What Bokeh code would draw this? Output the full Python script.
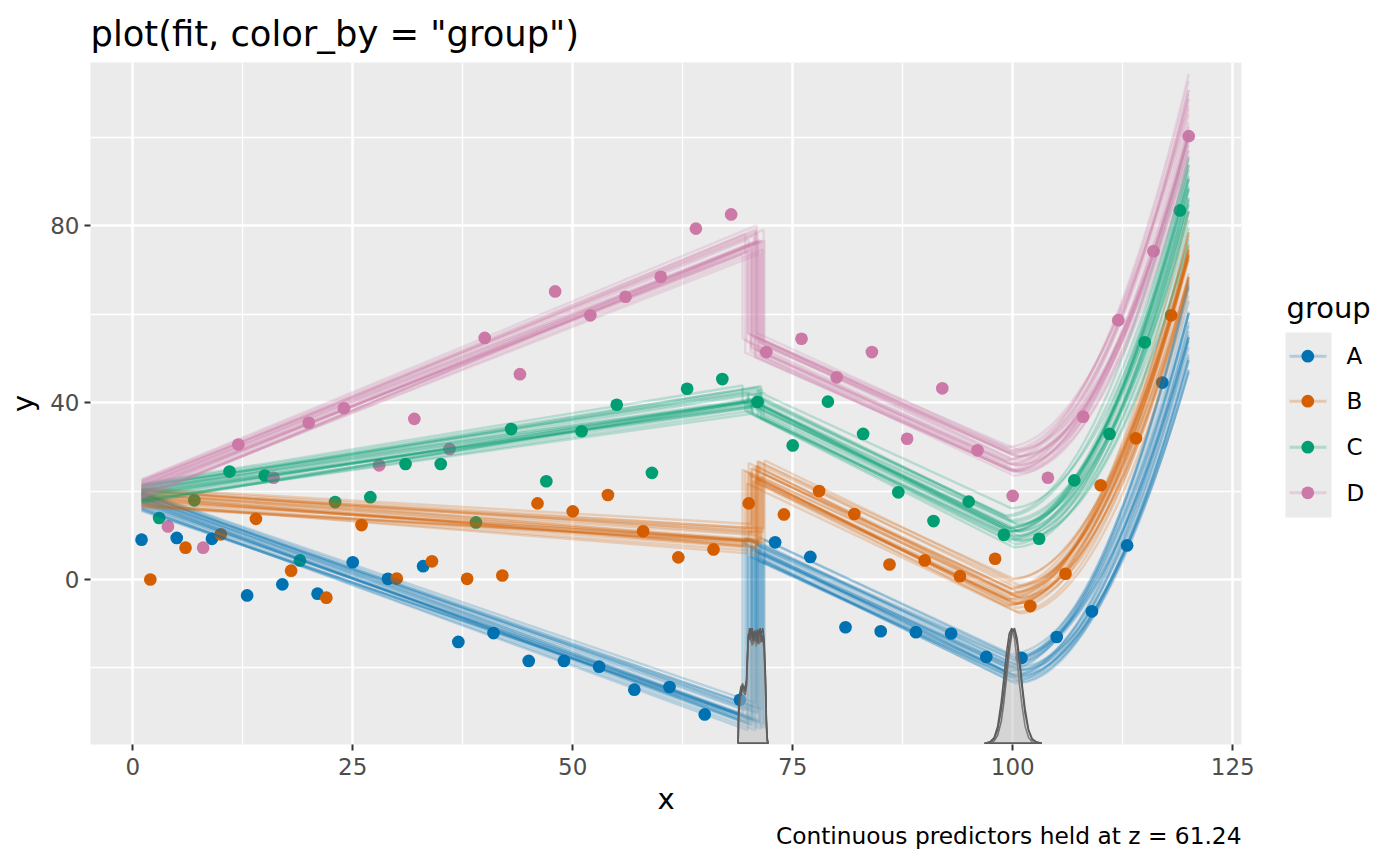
import numpy as np
from bokeh.plotting import figure
from bokeh.models import Range1d, FixedTicker, Title
from bokeh.layouts import row
from bokeh.embed import file_html
from bokeh.resources import INLINE
from bokeh.core.properties import value

FONT = "DejaVu Sans"

# ---------------- data ----------------
groups = ["A", "B", "C", "D"]
colors = ["#0072B2", "#D55E00", "#009E73", "#CC79A7"]

x_A = [1, 5, 9, 13, 17, 21, 25, 29, 33, 37, 41, 45, 49, 53, 57, 61, 65, 69, 73, 77,
       81, 85, 89, 93, 97, 101, 105, 109, 113, 117]
y_A = [9.0, 9.4, 9.2, -3.6, -1.1, -3.2, 3.9, 0.15, 3.0, -14.1, -12.1, -18.4, -18.4, -19.7,
       -24.9, -24.3, -30.5, -27.2, 8.4, 5.1, -10.8, -11.7, -11.9, -12.2, -17.5, -17.7,
       -13.0, -7.2, 7.7, 44.5]
x_B = [2, 6, 10, 14, 18, 22, 26, 30, 34, 38, 42, 46, 50, 54, 58, 62, 66, 70, 74, 78,
       82, 86, 90, 94, 98, 102, 106, 110, 114, 118]
y_B = [0.0, 7.2, 10.2, 13.7, 2.0, -4.1, 12.3, 0.2, 4.1, 0.15, 0.9, 17.2, 15.4, 19.1,
       10.9, 5.0, 6.8, 17.2, 14.7, 20.0, 14.8, 3.4, 4.3, 0.75, 4.7, -6.0, 1.3, 21.3,
       31.9, 59.7]
x_C = [3, 7, 11, 15, 19, 23, 27, 31, 35, 39, 43, 47, 51, 55, 59, 63, 67, 71, 75, 79,
       83, 87, 91, 95, 99, 103, 107, 111, 115, 119]
y_C = [13.9, 17.9, 24.4, 23.5, 4.3, 17.5, 18.6, 26.1, 26.1, 12.9, 34.0, 22.2, 33.5, 39.5,
       24.1, 43.1, 45.3, 40.1, 30.3, 40.2, 32.9, 19.7, 13.2, 17.6, 10.1, 9.2, 22.4, 32.9,
       53.6, 83.4]
x_D = [4, 8, 12, 16, 20, 24, 28, 32, 36, 40, 44, 48, 52, 56, 60, 64, 68, 72, 76, 80,
       84, 88, 92, 96, 100, 104, 108, 112, 116, 120]
y_D = [12.0, 7.2, 30.5, 23.0, 35.4, 38.7, 25.8, 36.3, 29.5, 54.6, 46.4, 65.1, 59.7, 63.9,
       68.4, 79.3, 82.5, 51.4, 54.4, 45.7, 51.4, 31.8, 43.2, 29.2, 18.9, 23.0, 36.8, 58.6,
       74.2, 100.2]
obs_x = [x_A, x_B, x_C, x_D]
obs_y = [y_A, y_B, y_C, y_D]

# posterior fit summary per group (segment 1: start value at x=1 and slope,
# segment 2: level right after change point 1 and slope, segment 3: quadratic)
fit_start = [17.7, 18.5, 19.5, 20.5]
fit_slope1 = [-0.706, -0.138, 0.304, 0.80]
fit_level2 = [6.8, 24.1, 39.3, 53.0]
fit_slope2 = [-0.93, -0.96, -0.965, -0.905]
fit_lin3 = 0.1
fit_quad3 = 0.188
fit_x_first, fit_x_last = 1, 120

# 25 posterior draws: change points and standardized deviations
cp1_draws = [70.3, 71.2, 70.0, 71.6, 70.8, 69.8, 71.0, 70.5, 71.8, 70.2, 71.4, 70.9, 69.9,
             70.6, 71.1, 70.4, 71.7, 69.3, 70.7, 71.3, 69.6, 70.8, 71.5, 70.3, 71.0]
cp2_draws = [100.2, 99.6, 100.5, 99.9, 100.0, 100.8, 99.4, 100.3, 99.8, 100.6, 100.1, 99.7,
             100.4, 99.2, 100.0, 100.9, 99.5, 100.2, 99.9, 100.7, 100.1, 99.3, 100.5, 99.8,
             100.3]
dev_a = [0.42, -0.81, 0.15, -0.33, 0.97, -0.12, 0.63, -1.0, 0.05, 0.74, -0.55, 0.31, -0.68,
         0.88, -0.21, 0.38, -0.92, 0.12, 0.81, -0.43, 0.26, -0.74, 0.51, -0.06, 0.69]
dev_b = [-0.35, 0.58, -0.9, 0.22, 0.71, -0.48, 0.04, 0.93, -0.62, 0.17, -0.27, 0.84, -0.77,
         0.36, 0.09, -0.58, 0.66, -0.15, -0.95, 0.47, 0.28, -0.39, 0.79, -0.7, 0.13]
dev_c = [0.6, 0.11, -0.52, -0.88, 0.33, 0.92, -0.24, -0.41, 0.76, -0.07, 0.49, -0.83, 0.2,
         -0.6, 0.97, 0.03, -0.3, 0.55, -0.15, -0.72, 0.86, 0.37, -0.98, 0.25, -0.45]

# posterior densities of the change points (3 chains, peak-normalised)
cp1_grid = [68.8, 68.85, 69.0, 69.15, 69.3, 69.45, 69.6, 69.75, 69.85, 69.95, 70.1, 70.25,
            70.4, 70.55, 70.7, 70.85, 71.0, 71.15, 71.3, 71.45, 71.6, 71.75, 71.9, 72.0,
            72.1, 72.2]
cp1_dens = [
    [0, 0.30, 0.44, 0.50, 0.47, 0.45, 0.47, 0.55, 0.75, 0.92, 0.97, 0.88, 1.0, 0.86, 0.95,
     0.84, 0.90, 0.98, 0.87, 0.96, 1.0, 0.90, 0.60, 0.25, 0.05, 0],
    [0, 0.20, 0.38, 0.46, 0.52, 0.44, 0.42, 0.50, 0.70, 0.88, 1.0, 0.90, 0.85, 0.97, 0.88,
     0.93, 0.99, 0.86, 0.95, 0.90, 0.94, 0.80, 0.50, 0.15, 0.02, 0],
    [0, 0.25, 0.40, 0.42, 0.48, 0.50, 0.45, 0.52, 0.72, 0.95, 0.90, 1.0, 0.92, 0.89, 0.98,
     0.91, 0.87, 0.94, 1.0, 0.88, 0.92, 0.85, 0.55, 0.20, 0.03, 0],
]
cp2_grid = [96.8, 97.4, 97.9, 98.3, 98.7, 99.0, 99.3, 99.6, 99.9, 100.2, 100.5, 100.8,
            101.1, 101.4, 101.8, 102.2, 102.7, 103.3]
cp2_dens = [
    [0, 0.01, 0.05, 0.15, 0.36, 0.57, 0.79, 0.95, 1.0, 0.91, 0.72, 0.49, 0.30, 0.15, 0.05,
     0.01, 0, 0],
    [0, 0, 0.02, 0.07, 0.19, 0.36, 0.57, 0.79, 0.95, 1.0, 0.91, 0.72, 0.49, 0.30, 0.12,
     0.04, 0.01, 0],
    [0, 0.01, 0.04, 0.12, 0.29, 0.46, 0.67, 0.87, 0.99, 0.97, 0.86, 0.67, 0.46, 0.26, 0.11,
     0.03, 0.01, 0],
]
dens_base = -37.0
dens_height = 26.0

x_ticks = [0, 25, 50, 75, 100, 125]
x_minor = [12.5, 37.5, 62.5, 87.5, 112.5]
y_ticks = [0, 40, 80]
y_minor = [-20, 20, 60, 100]

title_text = 'plot(fit, color_by = "group")'
caption_text = "Continuous predictors held at z = 61.24"

# ---------------- main plot ----------------
FRAME_W, FRAME_H = 1151, 682
B_LEFT, B_RIGHT, B_TOP, B_BOTTOM = 90, 19, 62, 105

p = figure(frame_width=FRAME_W, frame_height=FRAME_H,
           x_range=Range1d(-4.8, 126.0), y_range=Range1d(-37.29, 116.84),
           output_backend="svg", toolbar_location=None,
           min_border_left=B_LEFT, min_border_right=B_RIGHT,
           min_border_top=B_TOP, min_border_bottom=B_BOTTOM,
           background_fill_color="#EBEBEB", border_fill_color="white",
           outline_line_color=None, x_axis_label="x", y_axis_label="y")

p.title.text = title_text
p.title.text_font = FONT
p.title.text_font_size = "35.3px"
p.title.text_font_style = "normal"
p.title.text_color = "black"
p.title.align = "left"
p.title.standoff = 18

p.xaxis.ticker = FixedTicker(ticks=x_ticks, minor_ticks=x_minor)
p.yaxis.ticker = FixedTicker(ticks=y_ticks, minor_ticks=y_minor)
for ax in (p.xaxis, p.yaxis):
    ax.axis_line_color = None
    ax.major_tick_line_color = "#333333"
    ax.major_tick_line_width = 2
    ax.major_tick_out = 6
    ax.major_tick_in = 0
    ax.minor_tick_line_color = None
    ax.major_label_text_font = FONT
    ax.major_label_text_font_size = "23px"
    ax.major_label_text_color = "#4D4D4D"
    ax.axis_label_text_font = FONT
    ax.axis_label_text_font_size = "29px"
    ax.axis_label_text_font_style = "normal"
    ax.axis_label_text_color = "black"
p.xaxis.major_label_standoff = 7
p.yaxis.major_label_standoff = 5
p.xaxis.axis_label_standoff = 4
p.yaxis.axis_label_standoff = 7

p.grid.grid_line_color = "white"
p.grid.grid_line_width = 2.6
p.grid.minor_grid_line_color = "white"
p.grid.minor_grid_line_width = 1.3

# observed points
for k in range(4):
    p.scatter(obs_x[k], obs_y[k], size=12.7, fill_color=colors[k], line_color=None)

# posterior fit lines
n_draws = len(cp1_draws)
for k in range(4):
    xs_all, ys_all = [], []
    for i in range(n_draws):
        j = (i + 6 * k) % n_draws
        c1 = cp1_draws[i]
        c2 = cp2_draws[i]
        y1 = fit_start[k] + 2.2 * dev_a[j]
        s1 = fit_slope1[k] + 0.03 * dev_b[j]
        l2 = fit_level2[k] + 2.9 * dev_c[j]
        s2 = fit_slope2[k] + 0.05 * dev_a[(j + 9) % n_draws]
        q3 = fit_quad3 + 0.013 * dev_b[(j + 13) % n_draws]
        b3 = fit_lin3 + 0.12 * dev_c[(j + 4) % n_draws]
        x_seg1 = np.array([fit_x_first, c1])
        y_seg1 = y1 + s1 * (x_seg1 - fit_x_first)
        x_seg2 = np.array([c1, c2])
        y_seg2 = l2 + s2 * (x_seg2 - c1)
        x_seg3 = np.linspace(c2, fit_x_last, 45)
        d = x_seg3 - c2
        y_seg3 = y_seg2[-1] + b3 * d + q3 * d ** 2
        xs_all.append(np.concatenate([x_seg1, x_seg2, x_seg3]).tolist())
        ys_all.append(np.concatenate([y_seg1, y_seg2, y_seg3]).tolist())
    p.multi_line(xs_all, ys_all, line_color=colors[k], line_alpha=0.22, line_width=2.4)

# change point densities
for grid, chains in ((cp1_grid, cp1_dens), (cp2_grid, cp2_dens)):
    for dens in chains:
        yy = [dens_base + dens_height * v for v in dens]
        p.patch(grid, yy, fill_color="#BEBEBE", fill_alpha=0.2,
                line_color="#5E5E5E", line_width=1.6)

caption = Title(text=caption_text, align="right", text_font=FONT, text_font_size="23.3px",
                text_font_style="normal", text_color="black", standoff=2)
p.add_layout(caption, "below")

# ---------------- legend (ggplot style) ----------------
# legend panel shares the vertical frame of the main plot; y in page pixels
LW = 130
lg = figure(frame_width=LW, frame_height=FRAME_H, x_range=Range1d(0, LW),
            y_range=Range1d(745, 63), output_backend="svg", toolbar_location=None,
            min_border_left=0, min_border_right=0, min_border_top=B_TOP,
            min_border_bottom=B_BOTTOM, x_axis_type=None, y_axis_type=None,
            outline_line_color=None, background_fill_color="white",
            border_fill_color="white")
lg.grid.visible = False

key_ys = [356.7, 401.7, 447.7, 493.3]
lg.quad(left=[25], right=[71], top=[333], bottom=[518],
        fill_color="#EBEBEB", line_color=None)
lg.segment(x0=[29] * 4, y0=key_ys, x1=[66] * 4, y1=key_ys, line_color=colors,
           line_alpha=0.25, line_width=3)
lg.scatter([47.3] * 4, key_ys, size=12.7, fill_color=colors, line_color=None)
lg.text([86] * 4, key_ys, text=groups, text_font=value(FONT), text_font_size="23px",
        text_baseline="middle", text_align="left", text_color="black")
lg.text([26], [308], text=["group"], text_font=value(FONT), text_font_size="29px",
        text_baseline="middle", text_align="left", text_color="black")

layout = row(p, lg)
open("out.html", "w").write(file_html(layout, INLINE))
